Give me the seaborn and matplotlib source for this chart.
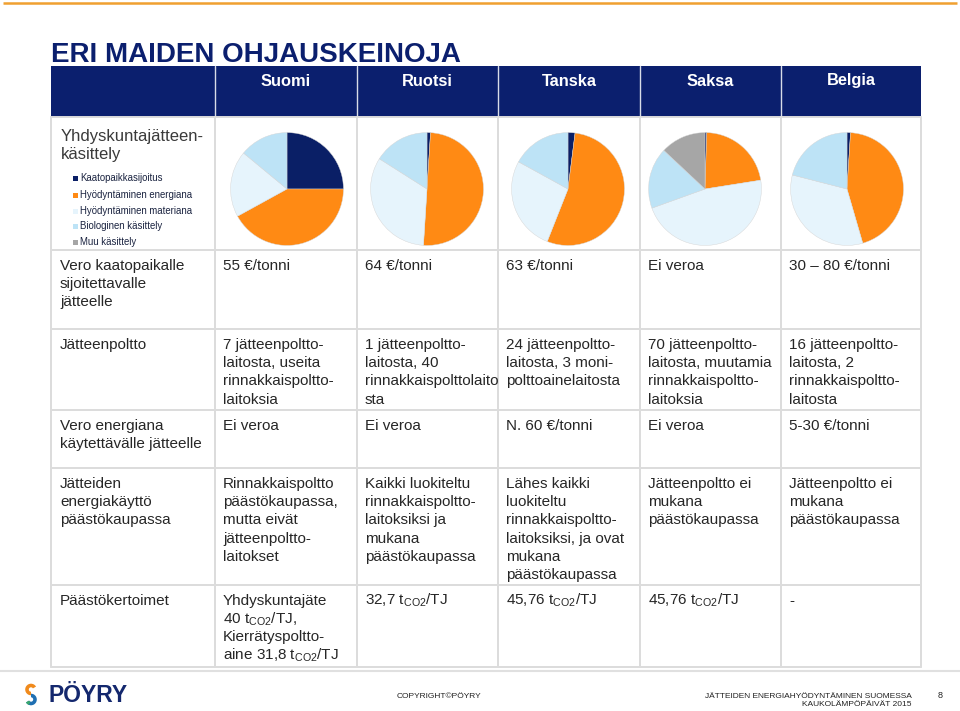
import matplotlib
matplotlib.use("Agg")
import matplotlib.pyplot as plt
from matplotlib.patches import Rectangle, Wedge
import seaborn as sns

# ---- data ----
countries = ['Suomi', 'Ruotsi', 'Tanska', 'Saksa', 'Belgia']
treatments = ['Kaatopaikkasijoitus', 'Hyödyntäminen energiana', 'Hyödyntäminen materiana',
              'Biologinen käsittely', 'Muu käsittely']

# share of municipal waste by treatment (%), same order as treatments
suomi_share = [25, 42, 19, 14, 0]
ruotsi_share = [1, 50, 33, 16, 0]
tanska_share = [2, 54, 27, 17, 0]
saksa_share = [0.5, 22, 47, 17.5, 13]
belgia_share = [1, 44.5, 33.5, 21, 0]

row_labels = [
    'Yhdyskuntajätteen-\nkäsittely',
    'Vero kaatopaikalle\nsijoitettavalle\njätteelle',
    'Jätteenpoltto',
    'Vero energiana\nkäytettävälle jätteelle',
    'Jätteiden\nenergiakäyttö\npäästökaupassa',
    'Päästökertoimet',
]
tax_landfill = ['55 €/tonni', '64 €/tonni', '63 €/tonni', 'Ei veroa', '30 – 80 €/tonni']
incineration = [
    '7 jätteenpoltto-\nlaitosta, useita\nrinnakkaispoltto-\nlaitoksia',
    '1 jätteenpoltto-\nlaitosta, 40\nrinnakkaispolttolaito\nsta',
    '24 jätteenpoltto-\nlaitosta, 3 moni-\npolttoainelaitosta',
    '70 jätteenpoltto-\nlaitosta, muutamia\nrinnakkaispoltto-\nlaitoksia',
    '16 jätteenpoltto-\nlaitosta, 2\nrinnakkaispoltto-\nlaitosta',
]
tax_energy = ['Ei veroa', 'Ei veroa', 'N. 60 €/tonni', 'Ei veroa', '5-30 €/tonni']
emission_trading = [
    'Rinnakkaispoltto\npäästökaupassa,\nmutta eivät\njätteenpoltto-\nlaitokset',
    'Kaikki luokiteltu\nrinnakkaispoltto-\nlaitoksiksi ja\nmukana\npäästökaupassa',
    'Lähes kaikki\nluokiteltu\nrinnakkaispoltto-\nlaitoksiksi, ja ovat\nmukana\npäästökaupassa',
    'Jätteenpoltto ei\nmukana\npäästökaupassa',
    'Jätteenpoltto ei\nmukana\npäästökaupassa',
]
emission_factors = [
    'Yhdyskuntajäte\n40 t$_{CO2}$/TJ,\nKierrätyspoltto-\naine 31,8 t$_{CO2}$/TJ',
    '32,7 t$_{CO2}$/TJ',
    '45,76 t$_{CO2}$/TJ',
    '45,76 t$_{CO2}$/TJ',
    '-',
]

# ---- style ----
sns.set_style("white")
plt.rcParams['font.family'] = ['Liberation Sans', 'DejaVu Sans']
plt.rcParams['mathtext.default'] = 'regular'

navy = '#0b1f6e'
grid = '#dcdcdc'
text_col = '#262626'
pie_colors = sns.color_palette(['#0a1f66', '#ff8a14', '#e6f4fc', '#bde3f6', '#a6a6a6'])

W, H = 960, 711
fig = plt.figure(figsize=(W / 100, H / 100), dpi=100)
ax = fig.add_axes([0, 0, 1, 1])
ax.set_xlim(0, W)
ax.set_ylim(H, 0)
ax.axis('off')

# layout (pixels)
col_x = [51, 215, 357, 498, 640, 781, 921]
row_y = [66, 117, 250, 329, 410, 468, 585, 667]
pie_cx = [287, 427, 568, 705, 847]
pie_cy = 189
pie_r = 57

# top accent line
ax.plot([3, 957], [3, 3], color='#f0a030', lw=1.8, solid_capstyle='butt')

# title
ax.text(51, 62, 'ERI MAIDEN OHJAUSKEINOJA', color=navy, fontsize=20, fontweight='bold',
        va='baseline', ha='left')

# header row
ax.add_patch(Rectangle((col_x[0], row_y[0]), col_x[-1] - col_x[0], row_y[1] - row_y[0],
                       facecolor=navy, edgecolor='none'))
for x in col_x[1:-1]:
    ax.plot([x, x], [row_y[0], row_y[1]], color='#d8dce8', lw=1.0)
for i, name in enumerate(countries):
    ax.text((col_x[i + 1] + col_x[i + 2]) / 2, 81, name, color='white', fontsize=11.8,
            fontweight='bold', ha='center', va='center')

# grid lines
for y in row_y[1:]:
    ax.plot([col_x[0], col_x[-1]], [y, y], color=grid, lw=1.4)
for x in col_x:
    ax.plot([x, x], [row_y[1], row_y[-1]], color=grid, lw=1.4)


def cell_text(x, top, txt, size=11.0, color=text_col, step=18.2):
    for k, line in enumerate(txt.split('\n')):
        ax.text(x, top + 20 + k * step, line, fontsize=size, color=color,
                ha='left', va='baseline')


# row 1: pies + legend
ax.text(61, 136, 'Yhdyskuntajätteen-', fontsize=12, color='#3a3a3a', va='center')
ax.text(61, 155, 'käsittely', fontsize=12, color='#3a3a3a', va='center')
leg_y = [178, 195, 211, 226, 242]
for name, c, y in zip(treatments, pie_colors, leg_y):
    ax.add_patch(Rectangle((72.5, y - 2.5), 5, 5, facecolor=c, edgecolor='none'))
    ax.text(80, y, name, fontsize=6.9, color='#1a2340', va='center', ha='left')

shares = [suomi_share, ruotsi_share, tanska_share, saksa_share, belgia_share]
for cx, share in zip(pie_cx, shares):
    pax = fig.add_axes([(cx - pie_r) / W, 1 - (pie_cy + pie_r) / H, 2 * pie_r / W, 2 * pie_r / H])
    vals = [v for v in share if v > 0]
    cols = [c for v, c in zip(share, pie_colors) if v > 0]
    pax.pie(vals, colors=cols, startangle=90, counterclock=False,
            wedgeprops=dict(edgecolor='#d4d4d4', linewidth=0.3))
    pax.set_xlim(-1.01, 1.01)
    pax.set_ylim(-1.01, 1.01)
    pax.axis('off')

# remaining rows
body = [tax_landfill, incineration, tax_energy, emission_trading, emission_factors]
for r, (label, vals) in enumerate(zip(row_labels[1:], body)):
    top = row_y[r + 2]
    cell_text(60, top, label)
    for i, v in enumerate(vals):
        cell_text(col_x[i + 1] + 8, top, v)

# footer
ax.plot([0, W], [671, 671], color='#e0e0e0', lw=1.5)
ax.add_patch(Wedge((31, 689.5), 5.8, 90, 330, width=3.6, facecolor='#f08a1c', edgecolor='none'))
ax.add_patch(Wedge((31, 699.5), 5.8, -90, 150, width=3.6, facecolor='#1f6fb2', edgecolor='none'))
ax.add_patch(Wedge((31, 699.5), 5.8, 110, 150, width=3.6, facecolor='#3aa86b', edgecolor='none'))
ax.text(49, 695, 'PÖYRY', fontsize=16.5, fontweight='bold', color='#14286e',
        va='center', ha='left')
ax.text(439, 696, 'COPYRIGHT©PÖYRY', fontsize=6, color='#222222', ha='center', va='center')
ax.text(912, 696, 'JÄTTEIDEN ENERGIAHYÖDYNTÄMINEN SUOMESSA', fontsize=6, color='#222222',
        ha='right', va='center')
ax.text(912, 705, 'KAUKOLÄMPÖPÄIVÄT 2015', fontsize=6, color='#222222', ha='right', va='center')
ax.text(940, 696, '8', fontsize=6.5, color='#222222', ha='center', va='center')

fig.savefig('out.png', dpi=100)
